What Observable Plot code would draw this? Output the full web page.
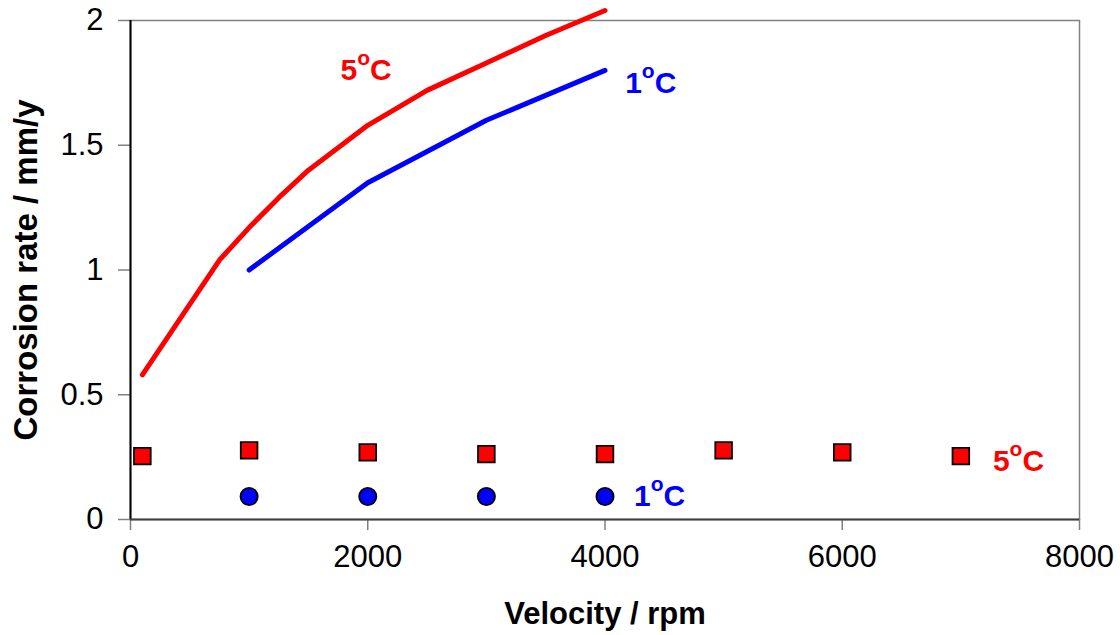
<!DOCTYPE html>
<html>
<head>
<meta charset="utf-8">
<script src="https://cdn.jsdelivr.net/npm/d3@7"></script>
<script src="https://cdn.jsdelivr.net/npm/@observablehq/plot@0.6"></script>
<style>
  html, body { margin: 0; padding: 0; background: #fff; }
  #chart svg { display: block; }
</style>
</head>
<body>
<div id="chart"></div>
<script>
// ---- data ----
const line5Rpm  = [100, 750, 1000, 1250, 1500, 1750, 2000, 2500, 3000, 3500, 4000];
const line5Rate = [0.58, 1.04, 1.17, 1.29, 1.40, 1.49, 1.58, 1.72, 1.83, 1.94, 2.04];
const line1Rpm  = [1000, 2000, 3000, 4000];
const line1Rate = [1.00, 1.35, 1.60, 1.80];
const sq5Rpm    = [100, 1000, 2000, 3000, 4000, 5000, 6000, 7000];
const sq5Rate   = [0.254, 0.277, 0.269, 0.262, 0.262, 0.277, 0.269, 0.254];
const dot1Rpm   = [1000, 2000, 3000, 4000];
const dot1Rate  = [0.092, 0.092, 0.092, 0.092];
const xTicks = [0, 2000, 4000, 6000, 8000];
const yTicks = [0, 0.5, 1, 1.5, 2];
const labelText  = ["5°C", "1°C", "1°C", "5°C"];
const labelRpm   = [1770, 4170, 4245, 7270];
const labelRate  = [1.763, 1.711, 0.056, 0.196];
const labelColor = ["red5", "blue1", "blue1", "red5"];

const line5 = line5Rpm.map((x, i) => ({x, y: line5Rate[i]}));
const line1 = line1Rpm.map((x, i) => ({x, y: line1Rate[i]}));
const sq5 = sq5Rpm.map((x, i) => ({x, y: sq5Rate[i]}));
const dot1 = dot1Rpm.map((x, i) => ({x, y: dot1Rate[i]}));
const labels = labelText.map((t, i) => ({t, x: labelRpm[i], y: labelRate[i], c: labelColor[i]}));
const colorOf = c => c === "red5" ? "#ff0000" : "#0000ff";

const FONT = "'Liberation Sans', Arial, sans-serif";

const chart = Plot.plot({
  width: 1120,
  height: 635,
  marginLeft: 130,
  marginRight: 41,
  marginTop: 20,
  marginBottom: 116,
  style: {fontFamily: FONT, fontSize: "31px", color: "#000", background: "#fff", overflow: "visible"},
  x: {domain: [0, 8000]},
  y: {domain: [0, 2]},
  marks: [
    Plot.frame({stroke: "#808080", strokeWidth: 1.5}),
    Plot.axisX({ticks: xTicks, tickFormat: d3.format("d"), tickSize: 11, tickPadding: 14, stroke: "#808080", strokeWidth: 1.5,
      label: "Velocity / rpm", labelAnchor: "center", labelArrow: "none", labelOffset: 104, fontSize: 31}),
    Plot.axisY({ticks: yTicks, tickFormat: d => String(d), tickSize: 12, tickPadding: 15, stroke: "#808080", strokeWidth: 1.5,
      label: "Corrosion rate / mm/y", labelAnchor: "center", labelArrow: "none", labelOffset: 117, fontSize: 31}),
    Plot.ruleX([0], {stroke: "#000", strokeWidth: 2}),
    Plot.ruleY([0], {stroke: "#404040", strokeWidth: 2}),
    Plot.line(line5, {x: "x", y: "y", stroke: "#ff0000", strokeWidth: 5, strokeLinecap: "round", strokeLinejoin: "round"}),
    Plot.line(line1, {x: "x", y: "y", stroke: "#0000ff", strokeWidth: 5, strokeLinecap: "round", strokeLinejoin: "round"}),
    Plot.dot(sq5, {x: "x", y: "y", symbol: "square", r: 9.4, fill: "#ff0000", stroke: "#000", strokeWidth: 1.8}),
    Plot.dot(dot1, {x: "x", y: "y", symbol: "circle", r: 8.6, fill: "#0000ff", stroke: "#000", strokeWidth: 1.8}),
    Plot.text(labels, {x: "x", y: "y", text: "t", fill: d => colorOf(d.c), textAnchor: "start", lineAnchor: "bottom",
      fontSize: 30, fontWeight: "bold", className: "temp-label"})
  ]
});

document.getElementById("chart").appendChild(chart);

// bold axis titles
d3.select(chart).selectAll("g[aria-label='x-axis label'] text")
  .attr("font-weight", "bold").attr("font-size", 31);
d3.select(chart).selectAll("g[aria-label='y-axis label'] text")
  .attr("font-weight", "bold").attr("font-size", 33);

// superscript "o" in temperature labels
d3.select(chart).selectAll(".temp-label text").each(function() {
  const t = this.textContent;
  const parts = t.split("°");
  const el = d3.select(this);
  el.text(null);
  el.append("tspan").text(parts[0]);
  el.append("tspan").attr("font-size", 21).attr("dy", -15).text("o");
  el.append("tspan").attr("dy", 15).text(parts[1]);
});
</script>
</body>
</html>
